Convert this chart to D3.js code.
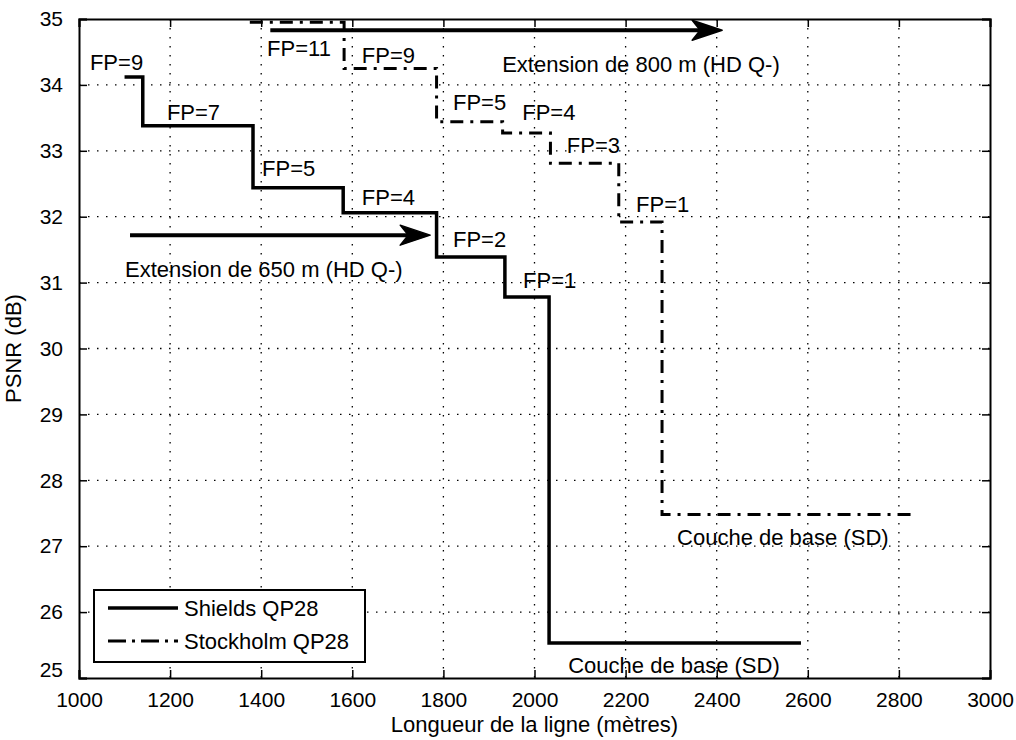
<!DOCTYPE html>
<html><head><meta charset="utf-8">
<script src="https://cdn.jsdelivr.net/npm/d3@7/dist/d3.min.js"></script>
<style>
body{margin:0;background:#fff;}
text{font-family:"Liberation Sans",Arial,sans-serif;fill:#000;}
</style></head>
<body>
<svg id="chart" width="1016" height="740"></svg>
<script>
// ---- data ----
const xTicks = [1000,1200,1400,1600,1800,2000,2200,2400,2600,2800,3000];
const yTicks = [25,26,27,28,29,30,31,32,33,34,35];
const shieldsLength = [1100,1140,1382,1580,1785,1935,2032,2585];
const shieldsPSNR   = [34.12,33.38,32.44,32.06,31.39,30.78,25.53,25.53];
const stockLength   = [1375,1582,1785,1930,2035,2185,2280,2835];
const stockPSNR     = [34.95,34.25,33.44,33.27,32.81,31.92,27.48,27.48];
const seriesNames   = ["Shields QP28","Stockholm QP28"];
const shieldsLabels = ["FP=9","FP=7","FP=5","FP=4","FP=2","FP=1","Couche de base (SD)"];
const shieldsLabelX = [1024,1193,1402,1621,1821,1975,2074];
const shieldsLabelY = [34.23,33.47,32.62,32.18,31.54,30.92,25.08];
const stockLabels   = ["FP=11","FP=9","FP=5","FP=4","FP=3","FP=1","Couche de base (SD)"];
const stockLabelX   = [1413,1621,1821,1973,2071,2223,2313];
const stockLabelY   = [34.44,34.33,33.62,33.47,32.97,32.07,27.02];
const arrowText     = ["Extension de 650 m (HD Q-)","Extension de 800 m (HD Q-)"];
const arrowFrom     = [1112,1420];
const arrowTo       = [1771,2412];
const arrowPSNR     = [31.72,34.83];
const arrowTextX    = [1101,1929];
const arrowTextY    = [31.08,34.19];

// ---- layout ----
const svg = d3.select("#chart");
const L=79, R=990, T=19, B=678;
const x = d3.scaleLinear().domain([1000,3000]).range([L,R]);
const y = d3.scaleLinear().domain([25,35]).range([B,T]);
const FS = 21, FT = 22;

svg.append("rect").attr("width",1016).attr("height",740).attr("fill","#fff");

// grid
const grid = svg.append("g").attr("stroke","#000").attr("stroke-width",1.3)
  .attr("stroke-dasharray","1.5,7.5");
grid.selectAll(".gx").data(xTicks.slice(1,-1)).join("line")
  .attr("x1",d=>x(d)).attr("x2",d=>x(d)).attr("y1",T).attr("y2",B);
grid.selectAll(".gy").data(yTicks.slice(1,-1)).join("line")
  .attr("y1",d=>y(d)).attr("y2",d=>y(d)).attr("x1",L).attr("x2",R);

// axes (ticks inward, box)
const tl = 8;
const axB = svg.append("g").attr("transform",`translate(0,${B})`)
  .call(d3.axisBottom(x).tickValues(xTicks).tickSize(-tl).tickPadding(14).tickFormat(d3.format("d")));
const axT = svg.append("g").attr("transform",`translate(0,${T})`)
  .call(d3.axisTop(x).tickValues(xTicks).tickSize(-tl).tickFormat(""));
const axL = svg.append("g").attr("transform",`translate(${L},0)`)
  .call(d3.axisLeft(y).tickValues(yTicks).tickSize(-tl).tickPadding(16).tickFormat(d3.format("d")));
const axR = svg.append("g").attr("transform",`translate(${R},0)`)
  .call(d3.axisRight(y).tickValues(yTicks).tickSize(-tl).tickFormat(""));
[axB,axT,axL,axR].forEach(a=>{
  a.selectAll(".domain").attr("stroke","#000").attr("stroke-width",2);
  a.selectAll(".tick line").attr("stroke","#000").attr("stroke-width",1.5);
  a.selectAll("text").style("font-size",FS+"px").style("font-family","Liberation Sans, Arial, sans-serif").attr("fill","#000");
});
axL.selectAll(".tick").filter(d=>d===25).select("text").attr("dy","-0.05em");

// series
const line = d3.line().x(d=>x(d[0])).y(d=>y(d[1])).curve(d3.curveStepAfter);
const shields = shieldsLength.map((v,i)=>[v,shieldsPSNR[i]]);
const stock = stockLength.map((v,i)=>[v,stockPSNR[i]]);
svg.append("path").attr("d",line(stock)).attr("fill","none").attr("stroke","#000")
  .attr("stroke-width",3).attr("stroke-dasharray","13,7,3,7");
svg.append("path").attr("d",line(shields)).attr("fill","none").attr("stroke","#000")
  .attr("stroke-width",3.5);

// arrows
arrowFrom.forEach((f,i)=>{
  const x0=x(f), x1=x(arrowTo[i]), yy=y(arrowPSNR[i]);
  svg.append("line").attr("x1",x0).attr("x2",x1-18).attr("y1",yy).attr("y2",yy)
    .attr("stroke","#000").attr("stroke-width",4);
  svg.append("path").attr("d",`M${x1},${yy} L${x1-30},${yy-10} L${x1-22},${yy} L${x1-30},${yy+10} Z`)
    .attr("fill","#000").attr("stroke","#000").attr("stroke-width",1.5).attr("stroke-linejoin","round");
  svg.append("text").attr("x",x(arrowTextX[i])).attr("y",y(arrowTextY[i]))
    .style("font-size",FT+"px").text(arrowText[i]);
});

// labels
shieldsLabels.forEach((t,i)=>svg.append("text").attr("x",x(shieldsLabelX[i])).attr("y",y(shieldsLabelY[i]))
  .style("font-size",FT+"px").text(t));
stockLabels.forEach((t,i)=>svg.append("text").attr("x",x(stockLabelX[i])).attr("y",y(stockLabelY[i]))
  .style("font-size",FT+"px").text(t));

// axis titles
svg.append("text").attr("x",(L+R)/2).attr("y",732).attr("text-anchor","middle")
  .style("font-size",FT+"px").text("Longueur de la ligne (mètres)");
svg.append("text").attr("transform",`translate(21,${(T+B)/2}) rotate(-90)`).attr("text-anchor","middle")
  .style("font-size",FT+"px").text("PSNR (dB)");

// legend
const lg = svg.append("g");
lg.append("rect").attr("x",94).attr("y",590).attr("width",271).attr("height",72)
  .attr("fill","#fff").attr("stroke","#000").attr("stroke-width",2);
const dashes = [null,"18,6,3,6"];
seriesNames.forEach((n,i)=>{
  const yy = 608 + i*33;
  const ln = lg.append("line").attr("x1",108).attr("x2",178).attr("y1",yy).attr("y2",yy)
    .attr("stroke","#000").attr("stroke-width",i===0?3.5:3);
  if(dashes[i]) ln.attr("stroke-dasharray",dashes[i]);
  lg.append("text").attr("x",184).attr("y",yy+8).style("font-size",FT+"px").text(n);
});
</script>
</body></html>
